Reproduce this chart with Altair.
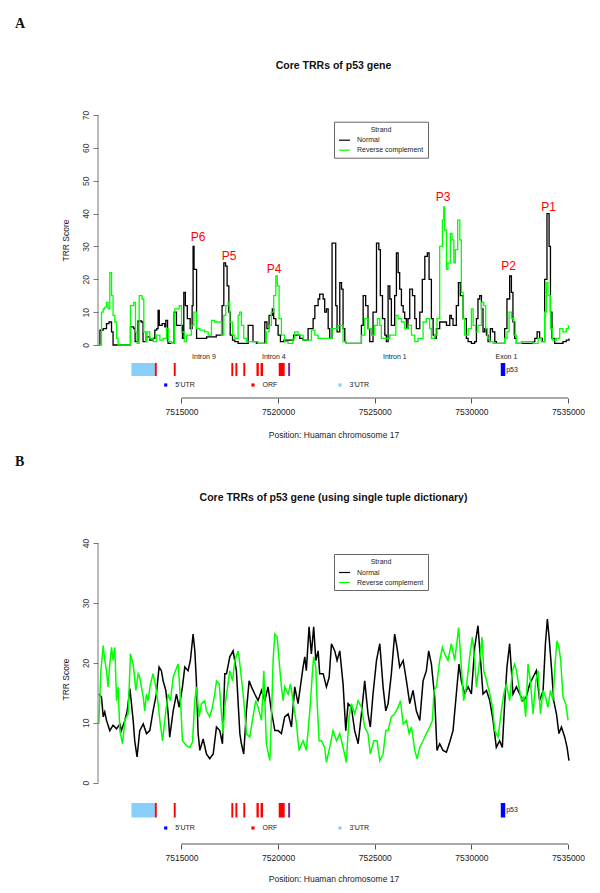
import altair as alt
import pandas as pd

FONT = "Liberation Sans"

# ---------------- Panel A data (position in kb, TRR score) ----------------
a_norm_kb = [7510.72,7510.78,7510.95,7511.12,7511.25,7511.38,7511.46,7512.33,7512.36,7512.53,
             7512.60,7512.75,7512.93,7513.01,7513.15,7513.36,7513.53,7513.62,7513.72,7513.79,
             7513.85,7514.00,7514.14,7514.19,7514.28,7514.31,7514.55,7514.62,7514.74,7514.91,
             7515.05,7515.12,7515.20,7515.30,7515.38,7515.45,7515.55,7515.60,7515.65,7515.74,
             7515.78,7515.95,7516.30,7516.55,7516.80,7517.00,7517.10,7517.19,7517.28,7517.36,
             7517.45,7517.52,7517.64,7517.76,7517.93,7518.30,7518.45,7518.60,7518.70,7518.88,
             7519.20,7519.31,7519.42,7519.53,7519.70,7519.77,7519.88,7520.00,7520.12,7520.30,
             7520.60,7520.80,7521.12,7521.29,7521.46,7521.55,7521.72,7521.81,7521.90,7522.07,
             7522.15,7522.33,7522.41,7522.50,7522.59,7522.67,7522.79,7522.88,7522.98,7523.05,
             7523.19,7523.28,7523.36,7523.45,7523.53,7524.22,7524.31,7524.40,7524.53,7524.65,
             7524.74,7524.91,7525.09,7525.21,7525.29,7525.40,7525.52,7525.60,7525.69,7525.78,
             7525.86,7526.03,7526.12,7526.21,7526.29,7526.38,7526.47,7526.55,7526.64,7526.72,
             7526.81,7526.95,7527.07,7527.15,7527.33,7527.46,7527.59,7527.72,7527.81,7527.93,
             7528.02,7528.10,7528.19,7528.36,7528.53,7528.71,7528.88,7528.96,7529.05,7529.22,
             7529.33,7529.43,7529.57,7529.74,7529.83,7530.00,7530.17,7530.26,7530.34,7530.43,
             7530.52,7530.60,7530.69,7530.78,7530.86,7530.98,7531.09,7531.21,7531.29,7531.64,
             7531.72,7531.84,7531.98,7532.07,7532.15,7532.24,7532.33,7533.19,7533.28,7533.40,
             7533.53,7533.67,7533.79,7533.91,7534.02,7534.09,7534.17,7534.31,7534.74,7534.91,
             7535.05]
a_norm = [0,4.5,5,6.5,7,4,0,0,5.5,5,
          1,7.3,7,1,2.5,1.5,2,4.5,5,10.5,
          6,6.5,5.5,7.5,1,0.5,0.5,10,6,6,
          2,16,12,8,8,5,12,30,23,23,
          2,2,2.5,2.5,3,3,12,25,24,18,
          10,3,1.5,1,0.5,0.5,6,6,1,0.5,
          0.5,7,5,9,11,8,6,3,1,1.5,
          1.5,3,2,1.5,1.5,5,5,8,12,14,
          15.5,14,10,11,5,2,31,31,12,4,
          19,17,5,1,0.5,0.5,6,15,12,5,
          1,10,31,29,15,8,3,1,18,14,
          6,15,28,22,17,12,10,8,5,8,
          17,15,8,5,10,20,27,28,20,8,
          3,2,5,7,7,6,9,8,6,12,
          19,15,8,2,1,0.5,1,8,14,15,
          11,4,5,3,1,5,4,1,0.5,0.5,
          5,14,21,16,7,2,0.5,1,2,4,
          2,1,20,40,30,10,2,0.5,1,1.5,
          2]

a_rc_kb = [7510.72,7510.86,7510.95,7511.03,7511.12,7511.20,7511.29,7511.38,7511.46,7511.55,
           7511.64,7511.72,7512.33,7512.36,7512.53,7512.62,7512.70,7512.81,7512.96,7513.05,
           7513.15,7513.22,7513.36,7513.53,7513.70,7513.88,7514.05,7514.22,7514.31,7514.48,
           7514.65,7514.88,7515.00,7515.14,7515.26,7515.51,7515.64,7515.77,7515.95,7516.20,
           7516.38,7516.55,7516.72,7516.89,7517.07,7517.19,7517.29,7517.41,7517.50,7517.64,
           7517.76,7517.93,7518.01,7518.10,7518.22,7518.36,7518.70,7518.96,7519.19,7519.39,
           7519.53,7519.65,7519.77,7519.88,7519.96,7520.05,7520.17,7520.34,7520.51,7520.77,
           7520.86,7521.03,7521.29,7521.55,7521.72,7521.90,7522.07,7522.59,7522.79,7523.10,
           7523.28,7523.36,7523.53,7524.22,7524.31,7524.48,7524.65,7524.83,7525.00,7525.14,
           7525.26,7525.34,7525.60,7525.78,7526.09,7526.21,7526.38,7526.55,7526.72,7526.90,
           7527.07,7527.24,7527.50,7527.67,7527.84,7527.93,7528.10,7528.22,7528.36,7528.50,
           7528.57,7528.62,7528.71,7528.79,7528.91,7529.00,7529.09,7529.17,7529.29,7529.40,
           7529.48,7529.57,7529.65,7529.83,7530.00,7530.09,7530.22,7530.34,7530.52,7530.64,
           7530.74,7530.83,7530.95,7531.12,7531.46,7531.72,7531.84,7531.95,7532.07,7532.19,
           7532.33,7532.59,7532.84,7533.19,7533.45,7533.62,7533.79,7533.88,7533.96,7534.09,
           7534.19,7534.40,7534.57,7534.74,7534.91,7535.02]
a_rc = [0,10,11,11.5,13,11,22,15,9,7,
        2,0,0,12,13,4,0.5,15,14,4,
        1,4,2,1,3,1.5,2,5,1,0.5,
        11,12,4,1,3,6,10,5,4.5,4,
        3,7.5,7,7,3,9,12,13,7,3,
        2,9,10,6,2,1,1,0.5,0.5,4,
        6,10,15,21,18,8,3,1,0.5,2,
        4,3,1.5,1.5,4.5,3,2,2,5,6,
        6,1,0.5,0.5,3,8,5,3,6,8,
        6,2,2,3,9,8,7,5,6,3,
        1,2,7,8,5,2,3,8,30,38,
        42,35,23,25,34,32,25,29,38,32,
        16,8,3,5,11,6,4,6,13,12,
        5,2,1,0.5,0.5,2,4,10,8,3,
        0.5,1,1,0.5,2,1,10,19,15,5,
        1.5,2,5,4,5,6]

peak_labels = ["P6", "P5", "P4", "P3", "P2", "P1"]
peak_kb = [7515.86, 7517.46, 7519.79, 7528.53, 7531.93, 7533.99]
peak_score = [33.0, 27.1, 23.0, 45.0, 24.0, 42.1]

# ---------------- Panel B data ----------------
b_norm_kb = [7510.72,7510.86,7510.95,7511.03,7511.12,7511.29,7511.46,7511.64,7511.81,7511.89,
             7512.07,7512.19,7512.33,7512.50,7512.58,7512.70,7512.84,7513.02,7513.19,7513.36,
             7513.53,7513.70,7513.84,7513.96,7514.05,7514.19,7514.31,7514.39,7514.57,7514.74,
             7514.88,7515.05,7515.17,7515.34,7515.46,7515.60,7515.69,7515.77,7515.86,7515.95,
             7516.12,7516.29,7516.46,7516.64,7516.81,7516.98,7517.12,7517.24,7517.33,7517.50,
             7517.67,7517.84,7518.02,7518.10,7518.22,7518.36,7518.50,7518.62,7518.79,7518.96,
             7519.14,7519.31,7519.48,7519.65,7519.83,7520.00,7520.17,7520.34,7520.52,7520.69,
             7520.86,7521.03,7521.29,7521.38,7521.46,7521.60,7521.72,7521.84,7521.95,7522.07,
             7522.15,7522.33,7522.50,7522.64,7522.76,7522.93,7523.05,7523.19,7523.36,7523.50,
             7523.62,7523.79,7523.96,7524.14,7524.31,7524.48,7524.65,7524.77,7524.91,7525.09,
             7525.26,7525.43,7525.57,7525.69,7525.86,7526.03,7526.15,7526.29,7526.47,7526.64,
             7526.81,7526.98,7527.15,7527.33,7527.50,7527.67,7527.79,7527.93,7528.10,7528.22,
             7528.36,7528.53,7528.71,7528.88,7529.05,7529.22,7529.36,7529.48,7529.65,7529.83,
             7530.00,7530.17,7530.34,7530.46,7530.60,7530.78,7530.95,7531.12,7531.29,7531.46,
             7531.60,7531.72,7531.84,7531.98,7532.15,7532.33,7532.50,7532.67,7532.84,7533.02,
             7533.19,7533.36,7533.53,7533.71,7533.83,7533.93,7534.02,7534.14,7534.26,7534.40,
             7534.53,7534.66,7534.83,7534.95,7535.05]
b_norm = [14.8,14.3,11,11.8,10.4,8.7,9.6,9,9.8,8.7,
          10.4,12,15.7,10.4,7,4.3,8.7,9.8,8.2,8.7,
          12,14.8,19.3,18.7,17,15.4,11.5,7.6,12,14.8,
          12.6,16,19.3,18.7,20.4,24.8,22,17,8.2,5.4,
          7.3,4.8,4,4.8,9.3,8.7,6.5,18.2,18.2,21,
          22,18.7,8.2,6.5,4.8,12,17,16,14.8,13.7,
          15.4,13.7,16,12,8.7,8.7,8.2,11,11.5,9.3,
          16,13.2,19.3,21,18.7,26,21.5,26,20.4,22,
          18.2,18.2,16,17.6,23.2,22,20.4,22,16.5,8.7,
          13.2,12.6,8.7,6.5,11.5,17,11.5,9.3,14.8,20.4,
          23.2,16,12,13.2,18.2,24.8,22.6,19.3,20.4,17,
          13.2,15.4,12,10.4,17,18.7,22,19.8,14.3,5.4,
          6.5,5.4,5.1,6.8,8.7,14.8,19.8,17,14.8,16,
          14.8,22.6,26.2,21,14.8,15.4,13.7,10.4,5.9,7,
          5.9,13.2,19.3,23.2,14.8,16,14.8,13.7,14.3,16.5,
          17.6,18.7,13.7,15.4,23.2,27.3,24.3,19.3,13.7,11.5,
          8.2,9.3,7.6,5.9,3.7]

b_rc_kb = [7510.72,7510.83,7510.95,7511.03,7511.12,7511.20,7511.29,7511.38,7511.46,7511.55,
           7511.64,7511.72,7511.81,7511.95,7512.07,7512.24,7512.36,7512.50,7512.64,7512.76,
           7512.84,7513.02,7513.10,7513.19,7513.27,7513.39,7513.53,7513.67,7513.79,7513.88,
           7514.02,7514.19,7514.31,7514.43,7514.57,7514.69,7514.83,7514.95,7515.05,7515.26,
           7515.43,7515.57,7515.69,7515.77,7515.91,7516.03,7516.20,7516.29,7516.46,7516.60,
           7516.72,7516.81,7516.95,7517.07,7517.15,7517.24,7517.36,7517.50,7517.64,7517.76,
           7517.93,7518.02,7518.19,7518.27,7518.36,7518.53,7518.70,7518.84,7518.96,7519.14,
           7519.26,7519.39,7519.57,7519.65,7519.74,7519.83,7519.95,7520.05,7520.17,7520.26,
           7520.34,7520.52,7520.64,7520.77,7520.95,7521.08,7521.29,7521.46,7521.64,7521.78,
           7521.84,7521.95,7522.02,7522.12,7522.24,7522.41,7522.50,7522.67,7522.84,7523.02,
           7523.19,7523.36,7523.53,7523.67,7523.79,7523.96,7524.14,7524.31,7524.48,7524.65,
           7524.77,7524.95,7525.12,7525.26,7525.43,7525.57,7525.69,7525.86,7526.03,7526.21,
           7526.33,7526.47,7526.64,7526.78,7526.90,7527.07,7527.19,7527.33,7527.50,7527.67,
           7527.84,7527.98,7528.07,7528.19,7528.36,7528.50,7528.62,7528.79,7528.96,7529.14,
           7529.34,7529.48,7529.60,7529.74,7529.91,7530.05,7530.17,7530.26,7530.43,7530.55,
           7530.64,7530.74,7530.86,7530.95,7531.09,7531.21,7531.38,7531.55,7531.67,7531.81,
           7531.98,7532.12,7532.24,7532.33,7532.46,7532.59,7532.71,7532.81,7532.93,7533.05,
           7533.19,7533.33,7533.45,7533.57,7533.71,7533.84,7533.96,7534.09,7534.22,7534.34,
           7534.43,7534.53,7534.62,7534.74,7534.88,7535.00]
b_rc = [9.8,18.7,22.9,20.4,18.7,16,19.8,22.6,20.4,22.6,
        13.7,16,8.7,6.5,10.4,11.5,21.5,19.8,15.4,18.2,
        17.6,14.3,12,14.8,13.7,16.4,18.2,16,13.2,10.4,
        7,12,14.8,13.7,17.6,18.7,19.8,13.7,7,6.2,
        5.9,6.8,13.7,16,11,13.2,13.7,12,11,12.6,
        14.8,17,16.5,11.5,8.2,12.6,15.4,18.7,17,20.4,
        22,19.8,14.8,12,8.2,7.6,11,13.7,12.6,10.4,
        18.7,6.5,3.7,10.4,20.4,24.8,24.3,20.4,16,13.7,
        16,14.8,16.5,13.7,9.8,5.4,7,5.4,12,18.7,
        21,19.3,13.2,7,7,5.9,3.4,5.9,8.7,7,
        8.2,5.9,3.4,11,13.2,11.5,13.7,12.6,9.3,8.2,
        4.8,7,7,3.7,4.8,8.7,8.7,11,11.5,12.6,
        13.7,9.8,10.4,8.2,9.3,5.4,4,5.9,7,8.2,
        9.3,10.4,15.4,16,20.4,22.6,21.5,20.4,23.2,20.4,
        25.9,19.3,13.7,16,21,24.3,20.4,16,20.4,24.3,
        18.7,17.6,16,14.8,12.6,8.7,7.6,12,14.8,16.5,
        13.7,18.7,19.8,18.7,16,13.7,14.3,11,19.8,17,
        11.5,17,18.7,11.5,15.4,14.3,12.6,15.4,13.7,20.4,
        23.7,22.6,20.4,14.3,13.2,10.4]

# ---------------- Gene structure (kb) ----------------
feat_start_kb = [7512.41, 7513.62, 7514.60, 7517.58, 7517.79, 7518.20, 7518.88, 7519.09, 7520.03, 7520.52, 7531.52]
feat_end_kb = [7513.62, 7513.72, 7514.70, 7517.68, 7517.89, 7518.30, 7519.00, 7519.22, 7520.34, 7520.62, 7531.75]
feat_type = ["3'UTR", "ORF", "ORF", "ORF", "ORF", "ORF", "ORF", "ORF", "ORF", "5'UTR/ORF", "5'UTR"]
feat_colors = {"3'UTR": "#87cefa", "ORF": "#ff0000", "5'UTR/ORF": "#7a1fa8", "5'UTR": "#0000ff"}

region_labels = ["Intron 9", "Intron 4", "Intron 1", "Exon 1"]
region_kb = [7516.16, 7519.78, 7526.04, 7531.81]

legend_items = ["5'UTR", "ORF", "3'UTR"]
legend_colors = ["#0000ff", "#ff0000", "#87cefa"]

x_ticks = [7515000, 7520000, 7525000, 7530000, 7535000]
X_DOMAIN = [7510680, 7535050]
W = 471
XTITLE = "Position: Huaman chromosome 17"


def lines_df(nk, nv, rk, rv):
    assert len(nk) == len(nv) and len(rk) == len(rv)
    d1 = pd.DataFrame({"pos": [k * 1000 for k in nk], "score": nv, "strand": "Normal"})
    d2 = pd.DataFrame({"pos": [k * 1000 for k in rk], "score": rv, "strand": "Reverse complement"})
    return pd.concat([d1, d2], ignore_index=True)


genes_df = pd.DataFrame({
    "start": [k * 1000 for k in feat_start_kb],
    "end": [k * 1000 for k in feat_end_kb],
    "fill": [feat_colors[t] for t in feat_type],
})


def panel(df, ymax, ymin, H, interp, sw, title, letter, title_y, letter_y, ytitle_y, xtitle_y,
          rect_y, legend_y, p53_y, legend_y_box, regions=False, peaks=False):
    xscale = alt.Scale(domain=X_DOMAIN, nice=False, zero=False)
    yscale = alt.Scale(domain=[ymin, ymax], nice=False, zero=False)
    xaxis = alt.Axis(values=x_ticks, format="d", domain=False, grid=False, tickSize=5,
                     tickColor="#555", tickWidth=1, labelFontSize=8.5, labelColor="#222",
                     labelPadding=4, labelFlush=False, labelOverlap=False,
                     title=XTITLE, titleFontSize=8.5, titleFontWeight="normal", titleColor="#222",
                     titleY=xtitle_y, titleBaseline="middle")
    yaxis = alt.Axis(values=list(range(0, ymax + 1, 10)), domain=False, grid=False, tickSize=5,
                     tickColor="#777", labelAngle=-90, labelAlign="center", labelBaseline="bottom",
                     labelFontSize=8.5, labelColor="#333", labelPadding=3,
                     title="TRR Score", titleFontSize=8.5, titleFontWeight="normal", titleColor="#222",
                     titleX=-33, titleY=ytitle_y, titleAngle=270, titleBaseline="middle",
                     titleAlign="center")
    legend = alt.Legend(orient="none", legendX=236, legendY=legend_y_box, title="Strand",
                        titleFontSize=7, titleFontWeight="normal", titleAnchor="middle",
                        titleColor="#222", labelColor="#222", titlePadding=1,
                        labelFontSize=7, symbolType="stroke", symbolStrokeWidth=1.2,
                        symbolSize=120, strokeColor="#666", fillColor="white", padding=4,
                        rowPadding=0, labelOffset=6)

    lines = alt.Chart(df).mark_line(interpolate=interp, strokeWidth=sw).encode(
        x=alt.X("pos:Q", scale=xscale, axis=xaxis, title=XTITLE),
        y=alt.Y("score:Q", scale=yscale, axis=yaxis, title="TRR Score"),
        color=alt.Color("strand:N", scale=alt.Scale(domain=["Normal", "Reverse complement"],
                                                    range=["#000000", "#00ff00"]),
                        legend=legend),
    )
    yline = alt.Chart(pd.DataFrame({"a": [0], "b": [ymax]})).mark_rule(color="#777", strokeWidth=1).encode(
        x=alt.value(0), y=alt.Y("a:Q", scale=yscale, title="TRR Score"), y2="b:Q")
    xline = alt.Chart(pd.DataFrame({"a": [x_ticks[0]], "b": [x_ticks[-1]]})).mark_rule(
        color="#555", strokeWidth=1).encode(
        x=alt.X("a:Q", scale=xscale, title=XTITLE), x2="b:Q", y=alt.value(H))
    genes = alt.Chart(genes_df).mark_rect().encode(
        x=alt.X("start:Q", scale=xscale, title=XTITLE), x2="end:Q",
        y=alt.value(rect_y[0]), y2=alt.value(rect_y[1]),
        color=alt.Color("fill:N", scale=None))
    p53 = alt.Chart(pd.DataFrame({"pos": [feat_end_kb[-1] * 1000], "t": ["p53"]})).mark_text(
        align="left", baseline="middle", fontSize=7, dx=1, color="#222").encode(
        x=alt.X("pos:Q", scale=xscale, title=XTITLE), y=alt.value(p53_y), text="t:N")
    layers = [lines, yline, xline, genes, p53]

    # gene legend
    leg_x = [67.7, 155, 242]
    for lx, lab, col in zip(leg_x, legend_items, legend_colors):
        layers.append(alt.Chart(pd.DataFrame({"t": [lab]})).mark_square(
            size=10, color=col, opacity=1).encode(x=alt.value(lx), y=alt.value(legend_y)))
        layers.append(alt.Chart(pd.DataFrame({"t": [lab]})).mark_text(
            align="left", baseline="middle", fontSize=7, color="#222").encode(
            x=alt.value(lx + 9.5), y=alt.value(legend_y), text="t:N"))

    if regions:
        layers.append(alt.Chart(pd.DataFrame({"pos": [k * 1000 for k in region_kb], "t": region_labels}))
                      .mark_text(fontSize=7, baseline="middle", color="#222").encode(
            x=alt.X("pos:Q", scale=xscale, title=XTITLE), y=alt.value(rect_y[0] - 6), text="t:N"))
    if peaks:
        layers.append(alt.Chart(pd.DataFrame({"pos": [k * 1000 for k in peak_kb], "s": peak_score,
                                              "t": peak_labels}))
                      .mark_text(fontSize=12, baseline="middle", color="#ff0000").encode(
            x=alt.X("pos:Q", scale=xscale, title=XTITLE),
            y=alt.Y("s:Q", scale=yscale, title="TRR Score"), text="t:N"))

    layers.append(alt.Chart(pd.DataFrame({"t": [title]})).mark_text(
        fontSize=10.5, fontWeight="bold", baseline="middle", color="#111").encode(
        x=alt.value(W / 2), y=alt.value(title_y), text="t:N"))
    layers.append(alt.Chart(pd.DataFrame({"t": [letter]})).mark_text(
        fontSize=14, fontWeight="bold", font="Liberation Serif", align="left", baseline="middle",
        color="#111").encode(x=alt.value(-83), y=alt.value(letter_y), text="t:N"))

    return alt.layer(*layers).properties(width=W, height=H)


dfA = lines_df(a_norm_kb, a_norm, a_rc_kb, a_rc)
dfB = lines_df(b_norm_kb, b_norm, b_rc_kb, b_rc)

HA = 283
HB = 301
panelA = panel(dfA, 70, -16.13, HA, "step-after", 1.3, "Core TRRs of p53 gene", "A",
               title_y=-49, letter_y=-91, ytitle_y=125, xtitle_y=36, rect_y=(248, 261), legend_y=270,
               p53_y=254.5, legend_y_box=6.7, regions=True, peaks=True)
panelB = panel(dfB, 40, -10.22, HB, "linear", 1.5, "Core TRRs of p53 gene (using single tuple dictionary)", "B",
               title_y=-45, letter_y=-81, ytitle_y=136, xtitle_y=34, rect_y=(260, 274.5), legend_y=285,
               p53_y=267, legend_y_box=11, regions=False, peaks=False)

chart = alt.vconcat(panelA, panelB, spacing=16).resolve_scale(
    x="independent", y="independent", color="independent"
).properties(
    padding={"left": 7, "top": 9, "right": 5, "bottom": 5}
).configure_view(stroke=None).configure_axis(
    labelFont=FONT, titleFont=FONT
).configure_legend(
    labelFont=FONT, titleFont=FONT
).configure_text(font=FONT)

chart.save("out.html", embed_options={"renderer": "svg", "actions": False})
